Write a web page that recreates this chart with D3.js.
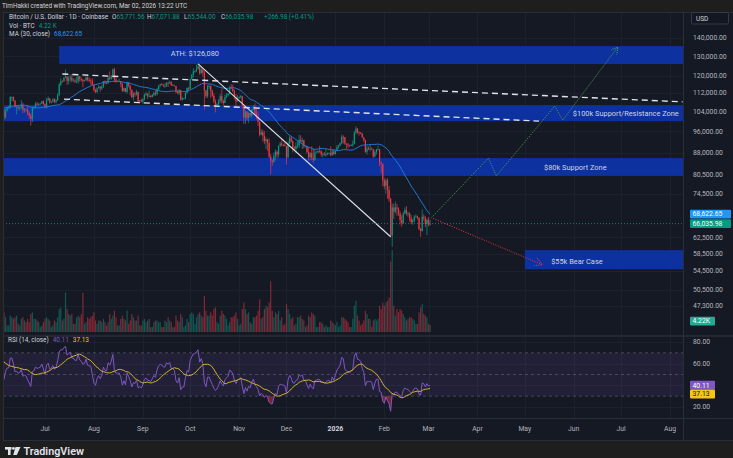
<!DOCTYPE html>
<html><head><meta charset="utf-8">
<script src="https://cdn.jsdelivr.net/npm/d3@7"></script>
<style>
html,body{margin:0;padding:0;background:#1e1e1e;overflow:hidden}
svg{display:block}
text{font-family:Roboto,"Noto Sans",sans-serif}
</style></head><body>
<svg id="c" width="733" height="458"></svg>
<script>
// ---------------- DATA (prices in thousands USD, volume in thousands BTC) ----------------
const warmupStart = "2025-05-05";
const warmupCloses = [94.7,96.8,97.0,103.2,102.9,104.6,104.1,102.8,104.1,103.5,103.7,103.5,103.2,106.4,105.6,106.8,109.6,111.7,107.3,107.8,109.0,109.4,108.9,107.8,105.6,103.9,104.6,105.7,105.9];
const barStart = "2025-06-03";
const closes = [
105.4,104.7,101.5,104.3,105.6,105.7,110.2,110.3,108.6,105.9,106.1,105.4,105.6,106.8,104.5,104.8,104.6,103.3,102.2,100.9,105.5,105.9,107.3,106.9,107.1,107.3,108.4,107.1,
105.7,108.8,109.6,107.9,108.2,109.2,108.2,108.9,111.3,115.9,117.5,117.4,119.1,119.8,117.7,118.7,119.3,117.9,117.9,117.3,117.4,119.9,118.6,118.3,117.6,117.9,119.4,118.0,117.9,117.8,115.8,
113.3,112.5,114.2,115.0,114.1,115.0,117.5,116.7,116.5,119.3,118.7,120.2,123.3,118.4,117.4,117.5,117.5,116.3,112.9,114.3,112.5,116.9,115.4,113.5,110.1,111.8,111.3,112.6,108.4,108.8,108.2,
109.2,111.2,111.7,110.7,110.7,110.2,111.1,112.1,111.5,113.9,115.5,116.1,115.9,115.4,115.4,116.8,116.5,117.1,115.7,115.7,115.3,112.7,112.0,113.3,109.0,109.7,109.7,112.1,114.4,114.0,
118.6,120.6,122.3,122.4,123.5,124.8,121.4,123.3,121.7,113.2,110.6,115.2,115.3,113.0,110.8,108.2,106.5,107.2,108.6,110.6,108.5,107.6,110.1,111.0,111.7,114.5,114.1,112.9,110.0,108.3,109.6,
110.1,110.6,106.5,101.5,103.9,101.3,103.3,102.3,104.7,106.0,103.0,101.6,99.7,94.6,95.6,94.2,92.2,92.9,91.5,86.6,85.1,84.7,86.8,88.3,87.3,90.5,91.3,90.9,90.8,90.4,
86.3,91.3,93.5,92.1,89.4,89.3,90.4,90.6,92.7,92.0,92.5,90.3,90.3,88.2,86.4,87.8,86.2,85.5,88.1,88.3,88.6,88.5,87.4,87.6,87.2,87.3,87.8,87.8,87.1,88.4,87.5,
88.7,90.0,90.6,91.4,93.9,93.7,91.3,91.0,90.6,90.5,90.8,91.2,95.4,97.0,95.6,95.5,95.1,93.6,92.6,88.3,89.5,89.4,89.5,89.2,86.6,88.2,89.2,89.2,84.5,84.1,78.6,
76.9,78.7,75.7,73.0,62.9,70.5,69.3,70.5,70.1,68.8,67.0,66.2,68.8,69.8,68.8,68.8,67.5,66.4,66.9,67.9,68.0,67.6,64.6,64.1,67.9,67.5,65.9,67.0,
65.77156,66.03598];
const highs = [
106.8,105.9,105.0,105.0,105.9,106.4,110.6,110.4,110.4,108.9,106.2,106.2,106.0,108.9,107.8,105.5,105.2,106.5,104.0,103.0,106.0,106.3,108.0,108.1,107.7,107.6,108.5,108.8,
107.5,109.8,110.5,109.8,108.4,109.7,109.7,109.2,111.9,116.8,118.9,118.0,119.5,123.2,119.9,120.1,120.8,120.9,118.9,118.8,119.7,120.2,120.1,119.5,118.5,118.3,119.8,119.8,119.3,118.8,118.9,
116.0,114.0,114.7,115.7,115.1,115.7,117.6,117.9,117.6,119.3,122.3,120.3,123.7,124.1,119.2,117.9,118.6,117.6,116.8,114.6,114.4,117.4,117.0,115.7,113.7,112.4,112.6,113.5,112.6,108.9,109.5,
109.9,111.8,112.6,112.1,113.3,111.2,111.6,112.8,113.2,114.3,115.6,116.3,116.8,116.1,116.8,116.9,117.3,117.9,117.5,116.3,115.8,115.4,113.3,113.9,113.5,110.3,109.8,112.3,114.5,114.8,
118.7,121.0,123.9,122.9,125.7,126.08,125.1,124.2,123.8,122.5,113.5,115.7,116.0,115.5,113.6,111.9,109.2,107.5,109.4,111.7,114.0,109.1,111.3,112.0,111.9,115.4,116.1,116.0,113.6,111.6,111.1,
110.6,111.2,110.8,107.0,104.5,104.1,104.0,103.4,105.0,106.6,107.5,105.3,104.0,99.8,96.8,96.6,96.0,93.8,93.0,93.2,87.5,85.6,88.0,89.2,88.8,90.6,91.9,93.1,91.2,92.0,
90.4,92.3,94.2,94.1,92.6,90.3,91.8,92.3,94.6,94.4,93.5,92.7,90.6,90.4,90.0,88.2,90.3,89.4,89.3,88.6,89.0,90.5,88.9,88.0,88.2,89.4,88.0,88.1,90.3,89.2,89.0,
88.9,90.8,90.9,91.7,94.7,94.4,93.8,91.4,91.6,90.9,91.2,92.4,96.1,97.9,97.2,95.9,95.6,95.3,93.6,92.7,90.4,90.3,91.1,89.8,89.3,88.8,89.4,90.5,89.3,84.9,84.2,
79.3,79.3,79.3,76.9,73.3,71.6,71.6,72.2,71.5,70.5,69.4,68.3,69.3,70.5,70.9,69.3,69.1,68.4,67.3,68.3,68.6,68.2,67.7,64.9,69.9,68.6,68.1,67.4,
67.8,67.07188];
const lows = [
104.9,104.2,100.4,101.1,103.9,105.0,105.1,108.4,108.3,105.6,102.7,104.5,104.5,105.0,103.3,103.5,103.9,102.4,101.0,98.2,99.6,104.7,105.4,106.6,106.2,106.9,107.2,106.8,
105.3,105.2,108.6,107.3,107.5,107.8,107.5,107.4,108.4,110.6,115.3,116.9,117.3,118.9,115.7,116.0,117.4,116.9,117.4,116.6,116.6,116.2,117.3,117.3,114.7,117.2,117.8,117.4,117.0,115.8,115.6,
112.7,112.0,112.0,114.0,112.6,113.4,114.3,115.9,116.2,116.5,118.1,118.2,118.9,117.2,116.8,117.2,117.3,114.7,112.7,112.4,112.4,111.7,114.6,110.9,109.8,108.7,110.3,110.9,107.5,107.5,108.1,
107.3,108.7,110.6,109.4,110.2,110.0,110.1,110.6,110.8,110.9,113.4,114.8,115.6,114.8,114.4,114.8,114.8,116.3,115.2,115.4,115.1,111.9,111.5,111.1,108.7,108.6,109.2,109.2,111.5,112.7,
113.8,118.2,119.3,121.6,122.1,123.1,120.6,121.1,119.7,104.8,109.7,109.8,113.8,109.9,110.2,107.5,103.6,106.4,106.1,107.5,107.4,106.7,107.5,109.7,110.5,111.3,113.8,112.4,109.3,106.3,108.3,
109.4,109.6,105.3,98.9,98.9,100.3,99.3,101.5,101.4,104.4,102.5,100.8,98.0,94.0,94.6,92.0,91.2,89.3,88.6,86.1,80.6,83.5,84.6,85.3,86.1,86.3,90.1,90.2,90.3,90.3,
83.8,86.2,91.0,91.7,88.1,88.9,87.8,89.6,89.6,91.6,89.3,89.5,89.9,87.6,85.2,85.4,85.3,84.5,85.2,87.9,87.6,87.9,86.6,86.4,86.9,86.6,87.2,87.4,86.8,86.8,87.2,
87.3,88.5,89.4,90.4,91.0,91.3,90.8,89.3,89.7,90.2,90.3,90.1,91.0,94.8,94.9,94.3,94.8,93.5,91.9,87.9,87.3,88.9,88.5,88.9,86.1,86.6,87.3,88.8,83.3,81.1,76.8,
75.9,74.6,73.0,72.1,62.6,60.1,67.3,68.8,68.2,68.1,65.8,65.2,65.9,68.6,68.2,67.9,66.6,65.9,65.7,66.4,67.6,67.1,64.2,62.6,63.9,66.8,65.1,63.0,
65.3,65.544];
const volumes = [
6,7,12,9,4,4,10,9,8,9,10,5,4,8,9,7,6,8,6,11,12,8,8,7,6,3,4,6,
8,9,8,7,3,4,7,6,9,14,15,7,8,24,14,11,10,11,5,5,9,10,9,11,24,5,6,9,8,9,10,
12,7,5,7,7,6,8,6,4,6,11,8,10,13,9,4,4,8,10,8,7,13,5,7,11,9,7,7,10,4,4,
7,8,6,7,8,3,3,6,7,7,6,6,3,3,7,6,9,7,6,3,3,10,7,6,11,9,3,4,8,6,
11,12,11,5,9,11,12,10,9,22,13,10,10,12,10,14,15,6,5,10,13,11,10,8,4,6,9,9,10,12,8,
4,5,14,18,14,11,12,6,5,9,9,10,13,20,8,9,14,16,15,18,31,13,9,12,11,13,7,9,4,5,
17,14,11,8,9,4,5,9,9,10,8,7,3,4,10,9,12,11,10,3,3,6,6,5,3,4,3,3,7,6,5,
4,6,3,4,9,9,8,7,6,3,3,8,16,19,10,7,4,5,7,13,11,8,8,3,7,8,7,8,16,14,18,
16,18,19,21,43,50,16,10,14,12,14,13,11,9,7,8,9,9,8,7,5,5,12,15,17,11,10,9,
5,4.22];

const priceTicks = [140000,130000,120000,112000,104000,96000,88000,80500,74500,62500,58500,54500,50500,47300];
const rsiTicks = [80,60,20];
const monthTickDates = ["2025-07-01","2025-08-01","2025-09-01","2025-10-01","2025-11-01","2025-12-01","2026-01-01","2026-02-01","2026-03-01","2026-04-01","2026-05-01","2026-06-01","2026-07-01","2026-08-01"];
const monthTickLabels = ["Jul","Aug","Sep","Oct","Nov","Dec","2026","Feb","Mar","Apr","May","Jun","Jul","Aug"];

const zoneNames = ["ATH: $126,080","$100k Support/Resistance Zone","$80k Support Zone","$55k Bear Case"];
const zoneFrom = ["2025-07-10","2025-05-20","2025-05-20","2026-05-01"];
const zoneTo = ["2026-09-01","2026-09-01","2026-09-01","2026-09-01"];
const zoneTop = [135500,106700,86100,59300];
const zoneBottom = [126000,100000,80100,54900];
const zoneLabelDate = ["2025-10-04","2026-07-04","2026-06-02","2026-06-03"];

const channelUpper = [["2025-07-12",121000],["2026-08-09",108100]];
const channelLower = [["2025-07-13",109300],["2026-05-10",100000]];
const athTrend = [["2025-10-06",126080],["2026-02-05",62600]];
const bullPath = [["2026-03-03",67700],["2026-04-08",86100],["2026-04-13",80100],["2026-05-20",106300],["2026-05-25",100400],["2026-06-29",135000]];
const bearPath = [["2026-03-04",67400],["2026-05-12",55900]];

const legendOHLC = ["65,771.56","67,071.88","65,544.00","66,035.98"];
const lastClose = 66035.98, lastMA = 68622.65, lastVol = 4.22, lastRSI = 40.11, lastRSIMA = 37.13;

// ---------------- LAYOUT ----------------
const svg = d3.select("#c");
const L = 3, R = 683, PT = 12, PB = 335, RT = 337, RB = 418, AB = 440;
const parse = d3.utcParse("%Y-%m-%d");
const x = d3.scaleUtc().domain([parse("2025-07-01"), parse("2026-08-01")]).range([45, 670]);
const y = d3.scaleLog().domain([42060, 155540]).range([PB, PT]);
const yVol = d3.scaleLinear().domain([0, 50]).range([332, 250]);
const yR = d3.scaleLinear().domain([20, 80]).range([407, 342]);
const K = 1000;
const UP = "#089981", DN = "#f23645";

// background
svg.append("rect").attr("width", 733).attr("height", 458).attr("fill", "#1e1e1e");
svg.append("rect").attr("x", L).attr("y", PT).attr("width", 733 - L).attr("height", AB - PT).attr("fill", "#151924");
const defs = svg.append("defs");
defs.append("clipPath").attr("id", "cp").append("rect").attr("x", L).attr("y", PT).attr("width", R - L).attr("height", PB - PT);
defs.append("clipPath").attr("id", "cr").append("rect").attr("x", L).attr("y", RT).attr("width", R - L).attr("height", RB - RT);
function mk(id, col) {
  defs.append("marker").attr("id", id).attr("viewBox", "0 0 8 8").attr("refX", 7).attr("refY", 4)
    .attr("markerWidth", 8).attr("markerHeight", 8).attr("markerUnits", "userSpaceOnUse").attr("orient", "auto")
    .append("path").attr("d", "M0,0 L7,4 L0,8").attr("fill", "none").attr("stroke", col).attr("stroke-width", 1).attr("stroke-dasharray", "1,1.2");
}
mk("ag", "#4caf50"); mk("ar", "#f23645");

// grid
const grid = svg.append("g").attr("stroke", "#1d212c").attr("stroke-width", 1);
monthTickDates.forEach(d => { const xx = Math.round(x(parse(d))) + 0.5; grid.append("line").attr("x1", xx).attr("x2", xx).attr("y1", PT).attr("y2", RB); });
priceTicks.forEach(p => { const yy = Math.round(y(p)) + 0.5; grid.append("line").attr("x1", L).attr("x2", R).attr("y1", yy).attr("y2", yy); });
[80,60,40,20].forEach(v => { const yy = Math.round(yR(v)) + 0.5; grid.append("line").attr("x1", L).attr("x2", R).attr("y1", yy).attr("y2", yy); });

// bars
const s0 = parse(barStart);
const allCloses = warmupCloses.concat(closes);
const W0 = warmupCloses.length;
const bars = closes.map((c, i) => ({
  date: d3.utcDay.offset(s0, i),
  o: (i ? closes[i - 1] : warmupCloses[W0 - 1]) * K, c: c * K, h: highs[i] * K, l: lows[i] * K, v: volumes[i]
}));

const pp = svg.append("g").attr("clip-path", "url(#cp)");
// zones
zoneNames.forEach((n, i) => {
  pp.append("rect").attr("x", x(parse(zoneFrom[i]))).attr("width", x(parse(zoneTo[i])) - x(parse(zoneFrom[i])))
    .attr("y", y(zoneTop[i])).attr("height", y(zoneBottom[i]) - y(zoneTop[i])).attr("fill", "#0d32a0");
});
// volume
pp.append("g").selectAll("rect").data(bars).join("rect")
  .attr("x", d => x(d.date) - 0.6).attr("width", 1.2)
  .attr("y", d => yVol(d.v)).attr("height", d => yVol(0) - yVol(d.v))
  .attr("fill", d => d.c >= d.o ? UP : DN).attr("opacity", 0.5);
// candles
const cg = pp.append("g");
cg.selectAll("line").data(bars).join("line")
  .attr("x1", d => x(d.date)).attr("x2", d => x(d.date)).attr("y1", d => y(d.h)).attr("y2", d => y(d.l))
  .attr("stroke", d => d.c >= d.o ? UP : DN).attr("stroke-width", 0.7);
cg.selectAll("rect").data(bars).join("rect")
  .attr("x", d => x(d.date) - 0.6).attr("width", 1.2)
  .attr("y", d => y(Math.max(d.o, d.c))).attr("height", d => Math.max(0.8, y(Math.min(d.o, d.c)) - y(Math.max(d.o, d.c))))
  .attr("fill", d => d.c >= d.o ? UP : DN);

// MA 30
const ma = [];
for (let i = W0; i < allCloses.length; i++) {
  ma.push({ date: d3.utcDay.offset(s0, i - W0), v: d3.mean(allCloses.slice(i - 29, i + 1)) * K });
}
pp.append("path").datum(ma).attr("fill", "none").attr("stroke", "#2179d6").attr("stroke-width", 1)
  .attr("d", d3.line().x(d => x(d.date)).y(d => y(d.v)));

// drawings
const pl = d3.line().x(d => x(parse(d[0]))).y(d => y(d[1]));
[channelUpper, channelLower].forEach(c => pp.append("path").datum(c).attr("d", pl).attr("fill", "none")
  .attr("stroke", "#e0e3eb").attr("stroke-width", 1.4).attr("stroke-dasharray", "6,4"));
pp.append("path").datum(athTrend).attr("d", pl).attr("fill", "none").attr("stroke", "#e0e3eb").attr("stroke-width", 1.1);
pp.append("path").datum(bullPath).attr("d", pl).attr("fill", "none").attr("stroke", "#4caf50").attr("stroke-width", 1)
  .attr("stroke-dasharray", "1,1.5").attr("marker-end", "url(#ag)");
pp.append("path").datum(bearPath).attr("d", pl).attr("fill", "none").attr("stroke", "#f23645").attr("stroke-width", 1)
  .attr("stroke-dasharray", "1,1.5").attr("marker-end", "url(#ar)");
// zone labels
zoneNames.forEach((n, i) => {
  pp.append("text").attr("x", x(parse(zoneLabelDate[i]))).attr("y", (y(zoneTop[i]) + y(zoneBottom[i])) / 2 + (i === 3 ? 2 : 0) - (i === 0 ? 1.5 : 0))
    .attr("dy", "0.35em").attr("text-anchor", "middle").attr("font-size", 7.4).attr("fill", "#d1d4dc").text(n);
});
// last price line
svg.append("line").attr("x1", L).attr("x2", R).attr("y1", y(lastClose)).attr("y2", y(lastClose))
  .attr("stroke", UP).attr("stroke-width", 0.8).attr("stroke-dasharray", "1,2");

// ---------------- RSI ----------------
function rsiCalc(a, n) {
  const out = new Array(a.length).fill(null); let g = 0, l = 0;
  for (let i = 1; i < a.length; i++) {
    const ch = a[i] - a[i - 1], up = Math.max(ch, 0), dn = Math.max(-ch, 0);
    if (i <= n) { g += up; l += dn; if (i === n) { g /= n; l /= n; out[i] = l === 0 ? 100 : 100 - 100 / (1 + g / l); } }
    else { g = (g * (n - 1) + up) / n; l = (l * (n - 1) + dn) / n; out[i] = l === 0 ? 100 : 100 - 100 / (1 + g / l); }
  }
  return out;
}
const rsiAll = rsiCalc(allCloses, 14);
const rsiSeries = [], rsiMa = [];
for (let i = W0; i < allCloses.length; i++) {
  const dt = d3.utcDay.offset(s0, i - W0);
  rsiSeries.push({ date: dt, v: rsiAll[i] });
  rsiMa.push({ date: dt, v: d3.mean(rsiAll.slice(i - 13, i + 1)) });
}
const rp = svg.append("g").attr("clip-path", "url(#cr)");
rp.append("rect").attr("x", L).attr("width", R - L).attr("y", yR(70)).attr("height", yR(30) - yR(70)).attr("fill", "rgba(126,87,194,0.12)");
[70, 50, 30].forEach(v => rp.append("line").attr("x1", L).attr("x2", R).attr("y1", yR(v)).attr("y2", yR(v))
  .attr("stroke", "#787b86").attr("stroke-opacity", 0.6).attr("stroke-width", 0.8).attr("stroke-dasharray", "3,3"));
rp.append("path").datum(rsiSeries).attr("fill", "rgba(242,54,69,0.45)")
  .attr("d", d3.area().x(d => x(d.date)).y0(yR(30)).y1(d => yR(Math.min(30, d.v))));
rp.append("path").datum(rsiSeries).attr("fill", "none").attr("stroke", "#7e57c2").attr("stroke-width", 1)
  .attr("d", d3.line().x(d => x(d.date)).y(d => yR(d.v)));
rp.append("path").datum(rsiMa).attr("fill", "none").attr("stroke", "#d4b62c").attr("stroke-width", 1)
  .attr("d", d3.line().x(d => x(d.date)).y(d => yR(d.v)));

// separators
svg.append("line").attr("x1", L).attr("x2", 733).attr("y1", 336).attr("y2", 336).attr("stroke", "#2a2e39").attr("stroke-width", 1.5);
svg.append("line").attr("x1", L).attr("x2", 733).attr("y1", RB + 0.5).attr("y2", RB + 0.5).attr("stroke", "#2a2e39");
svg.append("line").attr("x1", R + 0.5).attr("x2", R + 0.5).attr("y1", PT).attr("y2", AB).attr("stroke", "#2a2e39");
svg.append("rect").attr("x", L + 0.5).attr("y", PT + 0.5).attr("width", 733 - L).attr("height", AB - PT).attr("fill", "none").attr("stroke", "#2a2e39");

// ---------------- AXES ----------------
const ax = svg.append("g").attr("font-size", 6.8).attr("fill", "#b2b5be");
const fmt = d3.format(",.2f");
priceTicks.forEach(p => ax.append("text").attr("x", 693).attr("y", y(p)).attr("dy", "0.35em").text(fmt(p)));
rsiTicks.forEach(v => ax.append("text").attr("x", 693).attr("y", yR(v)).attr("dy", "0.35em").text(v.toFixed(2)));
monthTickDates.forEach((d, i) => ax.append("text").attr("x", x(parse(d))).attr("y", 431).attr("text-anchor", "middle")
  .attr("font-weight", monthTickLabels[i] === "2026" ? 700 : 400).attr("fill", monthTickLabels[i] === "2026" ? "#d1d4dc" : "#b2b5be").text(monthTickLabels[i]));

// USD box
svg.append("rect").attr("x", 691.5).attr("y", 12.5).attr("width", 37).attr("height", 11.5).attr("rx", 1.5).attr("fill", "#131722").attr("stroke", "#363a45");
svg.append("text").attr("x", 696).attr("y", 18.3).attr("dy", "0.35em").attr("font-size", 6.5).attr("fill", "#d1d4dc").text("USD");

function tag(yv, txt, bg, fg, w) {
  svg.append("rect").attr("x", 690).attr("y", yv - 4.4).attr("width", w).attr("height", 8.8).attr("rx", 1).attr("fill", bg);
  svg.append("text").attr("x", 692.5).attr("y", yv).attr("dy", "0.35em").attr("font-size", 6.8).attr("fill", fg).text(txt);
}
const yMA = y(lastMA);
const yC = Math.max(y(lastClose), yMA + 9);
tag(yMA, fmt(lastMA), "#2196f3", "#ffffff", 41);
tag(yC, fmt(lastClose), "#089981", "#ffffff", 41);
tag(yVol(lastVol) - 4, lastVol.toFixed(2) + "K", "#22ab94", "#ffffff", 25);
const yR1 = yR(lastRSI);
const yR2 = Math.max(yR(lastRSIMA), yR1 + 8.8);
tag(yR1, lastRSI.toFixed(2), "#7e57c2", "#ffffff", 25);
tag(yR2, lastRSIMA.toFixed(2), "#f5c518", "#131722", 25);

// ---------------- LEGEND / HEADER ----------------
const hd = svg.append("g").attr("font-size", 6.4);
hd.append("text").attr("x", 2).attr("y", 6).attr("dy", "0.35em").attr("fill", "#d1d4dc").text("TimHakki created with TradingView.com, Mar 02, 2026 13:22 UTC");
const l1 = hd.append("text").attr("y", 17).attr("dy", "0.35em").attr("fill", "#d1d4dc");
l1.append("tspan").attr("x", 9).text("Bitcoin / U.S. Dollar · 1D · Coinbase");
const lx = [112, 147, 184, 221];
["O", "H", "L", "C"].forEach((k, i) => {
  l1.append("tspan").attr("x", lx[i]).attr("fill", "#d1d4dc").text(k);
  l1.append("tspan").attr("fill", UP).text(legendOHLC[i]);
});
l1.append("tspan").attr("x", 264).attr("fill", UP).text("+266.98 (+0.41%)");
const l2 = hd.append("text").attr("y", 25.5).attr("dy", "0.35em").attr("fill", "#d1d4dc");
l2.append("tspan").attr("x", 9).text("Vol · BTC");
l2.append("tspan").attr("dx", 4).attr("fill", UP).text("4.22 K");
const l3 = hd.append("text").attr("y", 34).attr("dy", "0.35em").attr("fill", "#d1d4dc");
l3.append("tspan").attr("x", 9).text("MA (30, close)");
l3.append("tspan").attr("dx", 4).attr("fill", "#2196f3").text(fmt(lastMA));
const l4 = hd.append("text").attr("y", 340).attr("dy", "0.35em").attr("fill", "#d1d4dc");
l4.append("tspan").attr("x", 8).text("RSI (14, close)");
l4.append("tspan").attr("dx", 4).attr("fill", "#7e57c2").text(lastRSI.toFixed(2));
l4.append("tspan").attr("dx", 4).attr("fill", "#f5c518").text(lastRSIMA.toFixed(2));

// footer logo
const ft = svg.append("g").attr("fill", "#e0e3eb");
ft.append("rect").attr("x", 5).attr("y", 447).attr("width", 6.5).attr("height", 2.6);
ft.append("rect").attr("x", 8).attr("y", 447).attr("width", 2.6).attr("height", 8);
ft.append("circle").attr("cx", 13.4).attr("cy", 448.4).attr("r", 1.4);
ft.append("path").attr("d", "M15.5,447 L20.5,447 L16.8,455 L13.2,455 Z");
ft.append("text").attr("x", 23.5).attr("y", 455).attr("font-size", 10.8).attr("font-weight", 600).text("TradingView");
</script>
</body></html>
